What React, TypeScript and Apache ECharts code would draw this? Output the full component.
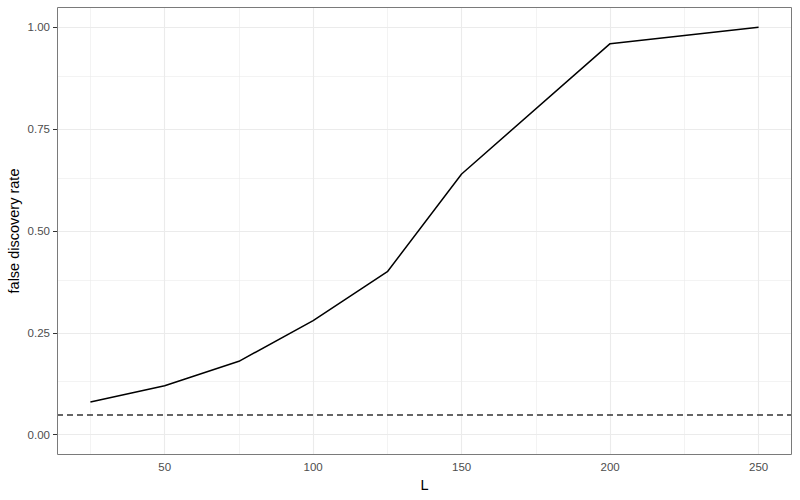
import React, { useEffect, useRef } from "react";
import * as echarts from "echarts";

const xValues = [25, 50, 75, 100, 125, 150, 200, 250];
const fdr = [0.08, 0.12, 0.18, 0.28, 0.4, 0.64, 0.96, 1.0];
const threshold = 0.05;
const xTicks = [50, 100, 150, 200, 250];
const xMinor = [25, 75, 125, 175, 225];
const yTicks = [0, 0.25, 0.5, 0.75, 1.0];
const yMinor = [0.125, 0.375, 0.625, 0.875];

const GRID = { left: 57, top: 7, right: 8, bottom: 45 };

export default function App() {
  const ref = useRef<HTMLDivElement>(null);
  useEffect(() => {
    if (!ref.current) return;
    document.body.style.margin = "0";
    const chart = echarts.init(ref.current, null, { renderer: "svg" });
    const gridLine = (axis: "xAxis" | "yAxis", v: number, w: number) => ({
      [axis]: v,
      lineStyle: { color: "#ebebeb", width: w, type: "solid" },
    });
    chart.setOption({
      animation: false,
      backgroundColor: "#ffffff",
      textStyle: { fontFamily: "Liberation Sans, Arial, sans-serif" },
      grid: {
        ...GRID,
        containLabel: false,
        outerBoundsMode: "none",
        show: false,
      },
      graphic: [
        {
          type: "rect",
          z: 100,
          silent: true,
          shape: {
            x: GRID.left + 0.5,
            y: GRID.top + 0.5,
            width: 800 - GRID.left - GRID.right - 1,
            height: 500 - GRID.top - GRID.bottom - 1,
          },
          style: { fill: "none", stroke: "#7a7a7a", lineWidth: 1 },
        },
      ],
      xAxis: {
        type: "value",
        min: 13.75,
        max: 261.25,
        name: "L",
        nameLocation: "middle",
        nameGap: 22,
        nameMoveOverlap: false,
        nameTextStyle: { color: "#000", fontSize: 14.5 },
        axisLine: { show: false },
        splitLine: { show: false },
        axisTick: { show: true, length: 4, customValues: xTicks, lineStyle: { color: "#333" } },
        axisLabel: { customValues: xTicks, color: "#4d4d4d", fontSize: 11.5, margin: 6 },
      },
      yAxis: {
        type: "value",
        min: -0.05,
        max: 1.05,
        name: "false discovery rate",
        nameLocation: "middle",
        nameGap: 36,
        nameMoveOverlap: false,
        nameTextStyle: { color: "#000", fontSize: 14.5 },
        axisLine: { show: false },
        splitLine: { show: false },
        axisTick: { show: true, length: 4, customValues: yTicks, lineStyle: { color: "#333" } },
        axisLabel: {
          customValues: yTicks,
          color: "#4d4d4d",
          fontSize: 11.5,
          margin: 7,
          formatter: (v: number) => v.toFixed(2),
        },
      },
      series: [
        {
          type: "line",
          data: [],
          silent: true,
          markLine: {
            silent: true,
            symbol: "none",
            label: { show: false },
            animation: false,
            data: [
              ...xMinor.map((v) => gridLine("xAxis", v, 0.6)),
              ...yMinor.map((v) => gridLine("yAxis", v, 0.6)),
              ...xTicks.map((v) => gridLine("xAxis", v, 1.1)),
              ...yTicks.map((v) => gridLine("yAxis", v, 1.1)),
            ],
          },
        },
        {
          type: "line",
          data: xValues.map((x, i) => [x, fdr[i]]),
          showSymbol: false,
          symbol: "none",
          lineStyle: { color: "#000000", width: 1.5 },
          z: 5,
          markLine: {
            silent: true,
            symbol: "none",
            label: { show: false },
            data: [{ yAxis: threshold }],
            lineStyle: { color: "#333333", width: 1.5, type: [6, 4] },
          },
        },
      ],
    });
    return () => chart.dispose();
  }, []);
  return (
    <div
      ref={ref}
      style={{ position: "absolute", left: 0, top: 0, width: 800, height: 500 }}
    />
  );
}
